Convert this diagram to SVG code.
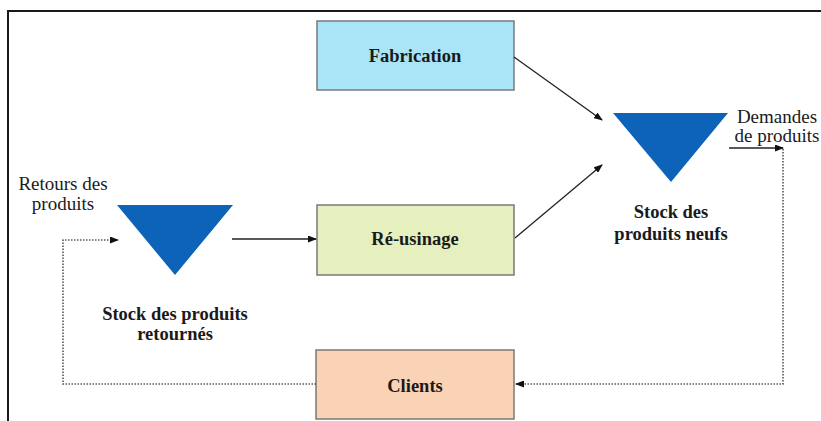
<svg xmlns="http://www.w3.org/2000/svg" width="821" height="421" viewBox="0 0 821 421">
<style>
.box{stroke:#7a7a7a;stroke-width:1.5}
.tri{fill:#0d63b8;stroke:none}
.lbl{font-family:"Liberation Serif","Times New Roman",serif;font-size:18.5px;font-weight:bold;fill:#1a1a1a;text-anchor:middle}
.txt{font-family:"Liberation Serif","Times New Roman",serif;font-size:19px;fill:#1a1a1a;text-anchor:middle}
.solid{fill:none;stroke:#222;stroke-width:1.3}
.dot{fill:none;stroke:#555;stroke-width:1.6;stroke-dasharray:1.5 1.5}
</style>
<defs>
<marker id="ah" markerUnits="userSpaceOnUse" markerWidth="9" markerHeight="7" refX="8" refY="3.5" orient="auto">
<path d="M0,0 L9,3.5 L0,7 z" fill="#111"/>
</marker>
</defs>
<rect x="0" y="0" width="821" height="421" fill="#fff"/>
<rect x="8" y="11" width="900" height="500" fill="none" stroke="#1a1a1a" stroke-width="2"/>
<g id="fabrication">
<rect class="box" x="317" y="21" width="197" height="69" fill="#a9e5f6"/>
<text class="lbl" x="415" y="62">Fabrication</text>
</g>
<g id="reusinage">
<rect class="box" x="317" y="205" width="197" height="70" fill="#e6f0be"/>
<text class="lbl" x="415" y="245">Ré-usinage</text>
</g>
<g id="clients">
<rect class="box" x="316" y="350" width="198" height="69" fill="#fad2b5"/>
<text class="lbl" x="415" y="392">Clients</text>
</g>
<g id="stock-retournes">
<polygon class="tri" points="117,205 233,205 175,275"/>
<text class="lbl" x="175" y="320">Stock des produits</text>
<text class="lbl" x="175" y="340">retournés</text>
</g>
<g id="stock-neufs">
<polygon class="tri" points="613,113 728,113 671,182"/>
<text class="lbl" x="671" y="218">Stock des</text>
<text class="lbl" x="671" y="240">produits neufs</text>
</g>
<g id="retours-label">
<text class="txt" x="63" y="190">Retours des</text>
<text class="txt" x="63" y="210">produits</text>
</g>
<g id="demandes-label">
<text class="txt" x="777" y="123">Demandes</text>
<text class="txt" x="777" y="142">de produits</text>
</g>
<g id="connectors">
<line class="solid" x1="514" y1="57" x2="602" y2="120" marker-end="url(#ah)"/>
<line class="solid" x1="515" y1="238" x2="602" y2="165" marker-end="url(#ah)"/>
<line class="solid" x1="232" y1="239" x2="316" y2="239" marker-end="url(#ah)"/>
<line class="solid" x1="729" y1="148" x2="783" y2="148" marker-end="url(#ah)"/>
<polyline class="dot" points="783,149 783,384 516,384" marker-end="url(#ah)"/>
<polyline class="dot" points="316,384 63,384 63,240 118,240" marker-end="url(#ah)"/>
</g>
</svg>
